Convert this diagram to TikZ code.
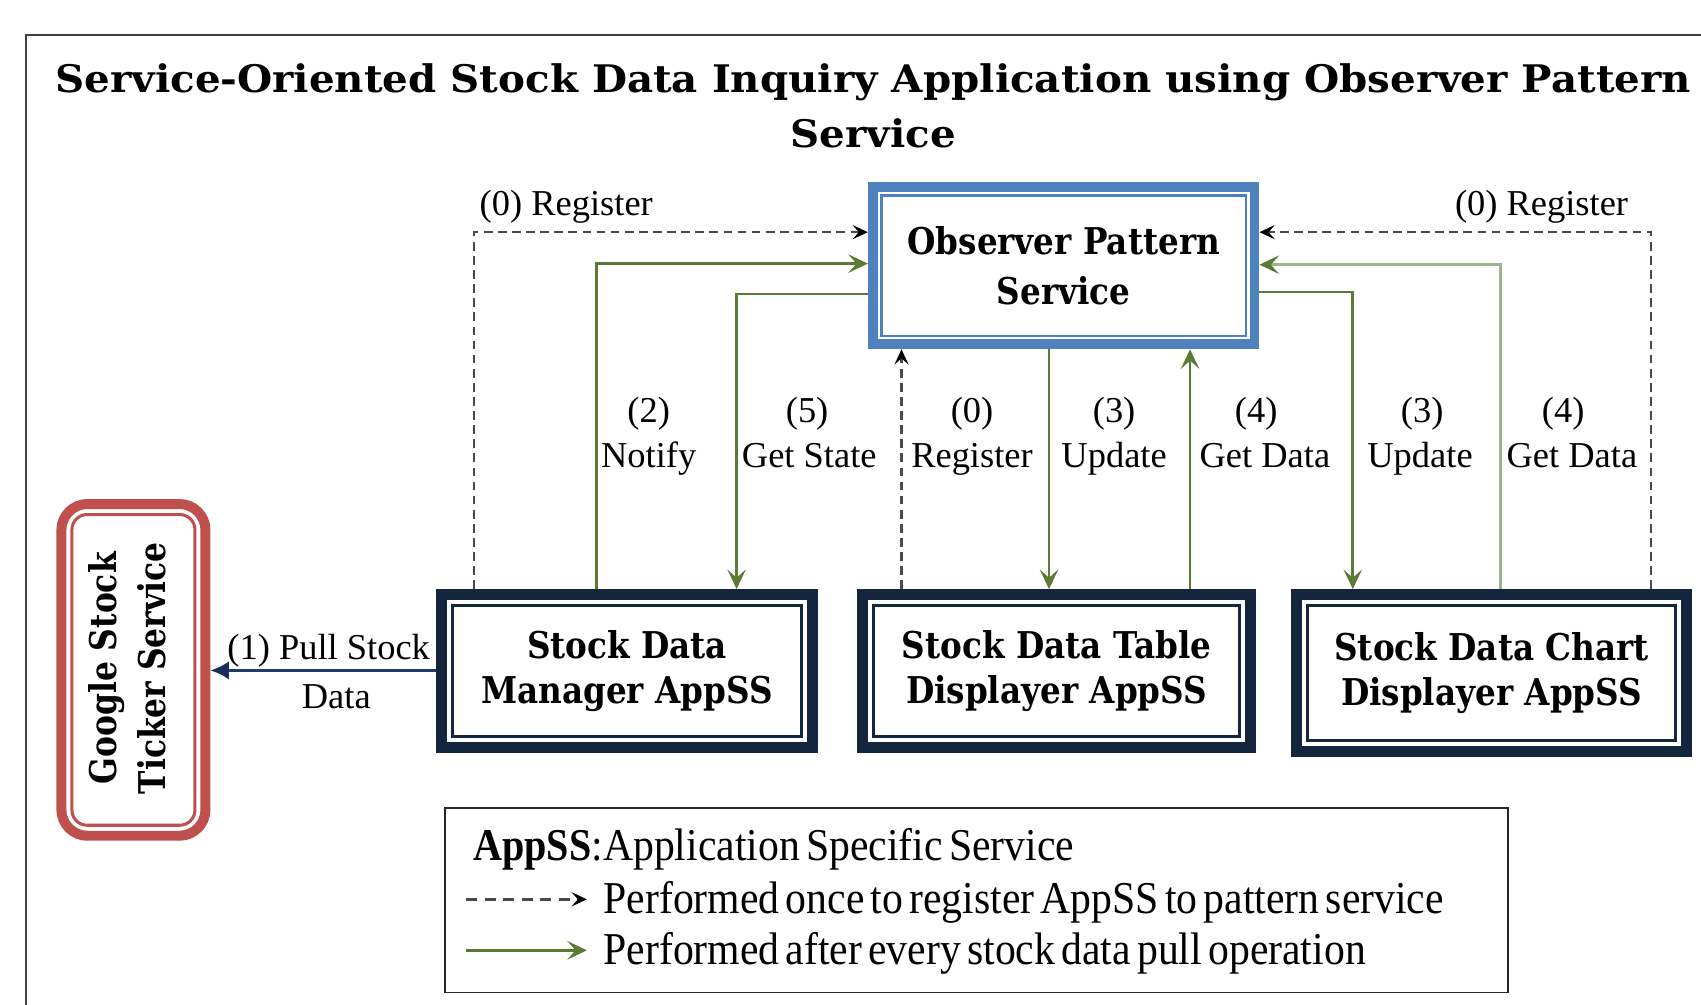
\documentclass[tikz,border=0pt]{standalone}
\usepackage{fontspec}
\setmainfont{Liberation Serif}
\newfontfamily\titlefont[FakeStretch=1.063]{DejaVu Serif Bold}
\newfontfamily\boxfont[FakeStretch=0.885]{DejaVu Serif Bold}
\newfontfamily\goofont[FakeStretch=0.85]{DejaVu Serif Bold}
\newfontfamily\legfont[FakeStretch=0.915,WordSpace=0.6]{Liberation Serif}
\newfontfamily\legboldfont[FakeStretch=0.88]{Liberation Serif Bold}
\usetikzlibrary{arrows.meta}
\definecolor{navyc}{HTML}{14253E}
\definecolor{bluec}{HTML}{4F81BD}
\definecolor{redc}{HTML}{C0504D}
\definecolor{greenc}{HTML}{5B7A34}
\definecolor{lgreenc}{HTML}{9DB68C}
\definecolor{dashc}{HTML}{4A4A4A}
\definecolor{pullc}{HTML}{1F3A6B}
\definecolor{framec}{HTML}{404040}
\tikzset{
  titletext/.style={anchor=base, inner sep=0pt, font={\titlefont\fontsize{17.5}{25.5}\selectfont}},
  navybox/.style={draw=navyc, line width=5pt, inner sep=0pt, align=center,
    font={\boxfont\fontsize{17}{21}\selectfont}},
  obsbox/.style={draw=bluec, line width=4.6pt, inner sep=0pt, align=center,
    font={\boxfont\fontsize{17}{23}\selectfont}},
  goobox/.style={draw=redc, line width=4.6pt, inner sep=0pt, rounded corners=12pt},
  gootext/.style={inner sep=0pt, align=center, rotate=90,
    font={\goofont\fontsize{17}{22.5}\selectfont}},
  navyinner/.style={draw=navyc, line width=1.4pt},
  blueinner/.style={draw=bluec, line width=1.2pt},
  redinner/.style={draw=redc, line width=1.4pt, rounded corners=7pt},
  lbl/.style={anchor=base, inner sep=0pt, font={\fontsize{16.8}{20}\selectfont}},
  legtext/.style={anchor=base west, inner sep=0pt, font={\legfont\fontsize{21}{25}\selectfont}},
  garr/.style={draw=greenc, line width=1.2pt, -{Stealth[length=9pt,width=8.5pt,inset=3.8pt]}},
  lgarr/.style={draw=lgreenc, line width=1.3pt, -{Stealth[length=9pt,width=8.5pt,inset=3.8pt,color=greenc]}},
  dasharr/.style={draw=dashc, line width=1.2pt, dash pattern=on 4pt off 2.5pt,
    -{Stealth[length=7pt,width=6.5pt,inset=2.8pt,color=black]}},
  pullarr/.style={draw=pullc, line width=1.4pt, -{Latex[length=8.5pt,width=8.5pt,color=pullc!80!black]}},
}
\newcommand\innerframe[3]{\draw[#3] ([shift={(#2,#2)}]#1.north west) rectangle ([shift={(-#2,-#2)}]#1.south east);}
\begin{document}
\begin{tikzpicture}[x=0.5pt, y=-0.5pt]
\useasboundingbox (0,0) rectangle (1568,926);
\clip (0,0) rectangle (1568,926);
\fill[white] (0,0) rectangle (1568,926);
% outer frame
\draw[framec, line width=1pt] (24,32) rectangle (1620,980);
% title
\node[titletext] (title1) at (805,85) {Service-Oriented Stock Data Inquiry Application using Observer Pattern};
\node[titletext] (title2) at (805,136) {Service};
% boxes
\node[obsbox, minimum width=175.9pt, minimum height=72.4pt] (obs) at (980.5,245) {Observer Pattern\\Service};
\innerframe{obs}{12.4}{blueinner}
\node[navybox, minimum width=171pt, minimum height=70.5pt] (mgr) at (578,618.5) {Stock Data\\Manager AppSS};
\innerframe{mgr}{15.1}{navyinner}
\node[navybox, minimum width=179pt, minimum height=70.5pt] (tab) at (974,618.5) {Stock Data Table\\Displayer AppSS};
\innerframe{tab}{15.1}{navyinner}
\node[navybox, minimum width=180pt, minimum height=72.5pt] (cht) at (1375,620.5) {Stock Data Chart\\Displayer AppSS};
\innerframe{cht}{15.1}{navyinner}
\node[goobox, minimum width=66.4pt, minimum height=152.9pt] (goo) at (123,617.5) {};
\draw[redinner] ([shift={(14.3,14.3)}]goo.north west) rectangle ([shift={(-14.3,-14.3)}]goo.south east);
\node[gootext] (gtext) at (117.5,616) {Google Stock\\Ticker Service};
% connectors
\draw[dasharr] (mgr.north -| 437,0) |- (obs.west |- 0,214);
\draw[garr] (mgr.north -| 550,0) |- (obs.west |- 0,243);
\draw[garr] (obs.west |- 0,271) -| (mgr.north -| 679,0);
\draw[dasharr] (tab.north -| 831,0) -- (obs.south -| 831,0);
\draw[garr] (obs.south -| 967,0) -- (tab.north -| 967,0);
\draw[garr] (tab.north -| 1097,0) -- (obs.south -| 1097,0);
\draw[garr] (obs.east |- 0,269) -| (cht.north -| 1247,0);
\draw[lgarr] (cht.north -| 1383,0) |- (obs.east |- 0,244);
\draw[dasharr] (cht.north -| 1522,0) |- (obs.east |- 0,214);
\draw[pullarr] (mgr.west |- 0,618) -- (goo.east |- 0,618);
% labels
\node[lbl] (regL) at (522,199) {(0) Register};
\node[lbl] (regR) at (1421,199) {(0) Register};
\node[lbl] (n2) at (598,389) {(2)};
\node[lbl] (w2) at (598,431) {Notify};
\node[lbl] (n5) at (744,389) {(5)};
\node[lbl] (w5) at (746,431) {Get State};
\node[lbl] (n0) at (896,389) {(0)};
\node[lbl] (w0) at (896,431) {Register};
\node[lbl] (n3) at (1027,389) {(3)};
\node[lbl] (w3) at (1027,431) {Update};
\node[lbl] (n4) at (1158,389) {(4)};
\node[lbl] (w4) at (1166,431) {Get Data};
\node[lbl] (n3r) at (1311,389) {(3)};
\node[lbl] (w3r) at (1309,431) {Update};
\node[lbl] (n4r) at (1441,389) {(4)};
\node[lbl] (w4r) at (1449,431) {Get Data};
\node[lbl] (pullA) at (303,608) {(1) Pull Stock};
\node[lbl] (pullB) at (310,653) {Data};
% legend
\node[draw=black!85, line width=0.8pt, minimum width=490pt, minimum height=85pt, inner sep=0pt] (leg) at (900,830) {};
\node[legtext] (legA) at (436,793) {{\legboldfont AppSS}:Application Specific Service};
\coordinate (ld1) at (430,829);
\coordinate (ld2) at (541,829);
\draw[dasharr, dash pattern=on 5pt off 3.5pt] (ld1) -- (ld2);
\node[legtext] (legB) at (556,842) {Performed once to register AppSS to pattern service};
\coordinate (lg1) at (430,876);
\coordinate (lg2) at (541,876);
\draw[garr] (lg1) -- (lg2);
\node[legtext] (legC) at (556,889) {Performed after every stock data pull operation};
\end{tikzpicture}
\end{document}
